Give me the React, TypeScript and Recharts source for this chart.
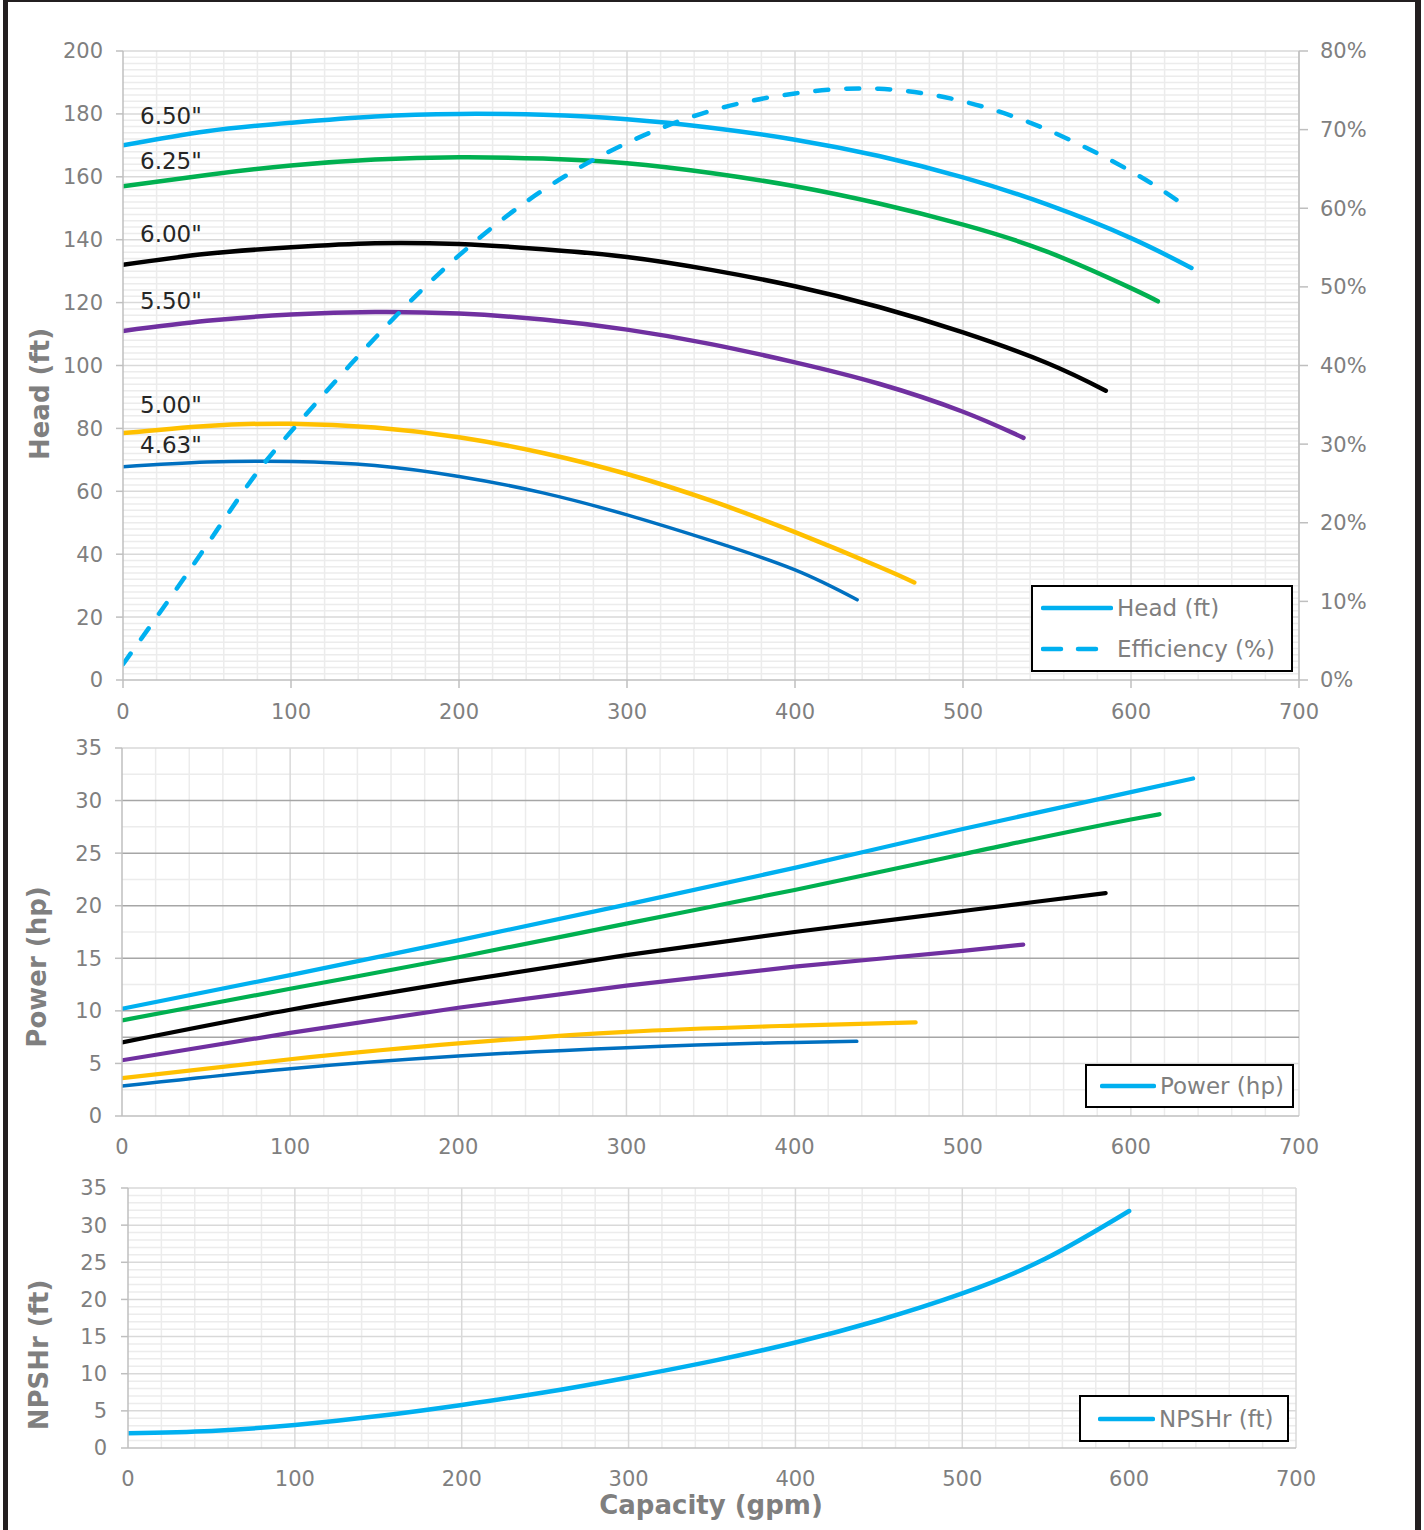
import React from 'react'
import { LineChart, Line, XAxis, YAxis, ReferenceLine } from 'recharts'

// capacity (gpm) -> value pairs
const head650 = [[0, 170], [50, 174.5], [100, 177.2], [150, 179.2], [200, 180], [250, 179.7], [300, 178.3], [350, 175.6], [400, 171.8], [450, 166.6], [500, 159.8], [550, 151.2], [600, 140.5], [636, 131]]
const head625 = [[0, 157], [50, 160.6], [100, 163.6], [150, 165.5], [200, 166.2], [250, 165.8], [300, 164.3], [350, 161.2], [400, 157], [450, 151.5], [500, 144.8], [550, 136.2], [600, 124.6], [616, 120.4]]
const head600 = [[0, 132], [50, 135.5], [100, 137.6], [150, 138.9], [200, 138.6], [250, 137], [300, 134.5], [350, 130.4], [400, 125.2], [450, 118.6], [500, 110.5], [550, 100.8], [585, 92]]
const head550 = [[0, 111], [50, 114.2], [100, 116.2], [150, 117], [200, 116.5], [250, 114.6], [300, 111.4], [350, 106.8], [400, 101], [450, 94.2], [500, 85.3], [536, 77]]
const head500 = [[0, 78.5], [50, 80.8], [100, 81.5], [150, 80.3], [200, 77.2], [250, 72.2], [300, 65.5], [350, 57], [400, 47], [450, 36], [471, 31]]
const head463 = [[0, 67.8], [50, 69.3], [100, 69.5], [150, 68.2], [200, 64.7], [250, 59.5], [300, 52.5], [350, 44.3], [400, 35], [437, 25.5]]

const efficiency = [[0, 2], [25, 9.5], [50, 17.2], [75, 25], [100, 31.6], [150, 43.5], [200, 54], [250, 62.3], [300, 68.3], [350, 72.4], [400, 74.6], [450, 75.2], [500, 73.6], [550, 70], [600, 64.7], [631, 60.5]]

const power650 = [[0, 10.2], [100, 13.4], [200, 16.7], [300, 20.1], [400, 23.6], [500, 27.3], [600, 30.8], [637, 32.1]]
const power625 = [[0, 9.1], [100, 12.1], [200, 15.1], [300, 18.3], [400, 21.5], [500, 24.9], [600, 28.2], [617, 28.7]]
const power600 = [[0, 7], [100, 10.1], [200, 12.8], [300, 15.3], [400, 17.5], [500, 19.5], [585, 21.2]]
const power550 = [[0, 5.3], [100, 7.9], [200, 10.3], [300, 12.4], [400, 14.2], [500, 15.7], [536, 16.3]]
const power500 = [[0, 3.6], [100, 5.4], [200, 6.9], [300, 8], [400, 8.6], [472, 8.9]]
const power463 = [[0, 2.85], [100, 4.5], [200, 5.7], [300, 6.5], [400, 7], [437, 7.1]]

const npshr = [[0, 2], [50, 2.3], [100, 3.1], [150, 4.3], [200, 5.8], [250, 7.5], [300, 9.5], [350, 11.7], [400, 14.2], [450, 17.2], [500, 20.8], [550, 25.5], [600, 31.9]]

const capTicks = [0, 100, 200, 300, 400, 500, 600, 700]
const headTicks = [0, 20, 40, 60, 80, 100, 120, 140, 160, 180, 200]
const effTicks = [0, 10, 20, 30, 40, 50, 60, 70, 80]
const powerTicks = [0, 5, 10, 15, 20, 25, 30, 35]
const npshTicks = [0, 5, 10, 15, 20, 25, 30, 35]

const trims = [
  { name: '6.50"', color: '#00b0f0', head: head650, power: power650 },
  { name: '6.25"', color: '#00b050', head: head625, power: power625 },
  { name: '6.00"', color: '#000000', head: head600, power: power600 },
  { name: '5.50"', color: '#7030a0', head: head550, power: power550 },
  { name: '5.00"', color: '#ffc000', head: head500, power: power500 },
  { name: '4.63"', color: '#0070c0', head: head463, power: power463 },
]

// label offset above the first point of each head curve
const labelDy: Record<string, number> = { '6.50"': -29, '6.25"': -25, '6.00"': -31, '5.50"': -30, '5.00"': -28, '4.63"': -22 }

const FONT = '"DejaVu Sans", Verdana, sans-serif'
const GREY = '#7f7f7f'
const AXIS = '#bfbfbf'
const MAJOR = '#d9d9d9'
const MINOR = '#ececec'

const range = (start: number, end: number, step: number) => {
  const out: number[] = []
  for (let v = start; v <= end + 1e-9; v += step) out.push(Math.round(v * 100) / 100)
  return out
}

const pts = (arr: number[][]) => arr.map(([x, y]) => ({ x, y }))

const tickStyle = { fill: GREY, fontSize: 21, fontFamily: FONT }

const gridLines = (xs: number[], ys: number[], color: string, yAxisId: string, prefix: string) => [
  ...xs.map((v) => <ReferenceLine key={prefix + 'x' + v} x={v} yAxisId={yAxisId} stroke={color} strokeWidth={1.5} />),
  ...ys.map((v) => <ReferenceLine key={prefix + 'y' + v} y={v} yAxisId={yAxisId} stroke={color} strokeWidth={1.5} />),
]

const AxisTitle = ({ text, x, y, rotate }: { text: string; x: number; y: number; rotate?: boolean }) => (
  <div
    style={{
      position: 'absolute',
      left: x,
      top: y,
      transform: `translate(-50%, -50%)${rotate ? ' rotate(-90deg)' : ''}`,
      whiteSpace: 'nowrap',
      fontFamily: FONT,
      fontWeight: 'bold',
      fontSize: 26,
      color: GREY,
    }}
  >
    {text}
  </div>
)

type LegendItem = { label: string; dashed?: boolean }

const LegendBox = ({ left, top, width, height, sample, pad, items }: { left: number; top: number; width: number; height: number; sample: number; pad: number; items: LegendItem[] }) => (
  <div
    style={{
      position: 'absolute',
      left,
      top,
      width,
      height,
      boxSizing: 'border-box',
      border: '2px solid #000',
      background: '#fff',
      display: 'flex',
      flexDirection: 'column',
      justifyContent: 'space-around',
      paddingLeft: pad,
    }}
  >
    {items.map((it) => (
      <div key={it.label} style={{ display: 'flex', alignItems: 'center', fontFamily: FONT, fontSize: 23, color: GREY, whiteSpace: 'nowrap' }}>
        <svg width={sample + 4} height={10} style={{ marginRight: 4, flex: 'none' }}>
          <line x1={2} y1={5} x2={sample + 2} y2={5} stroke="#00b0f0" strokeWidth={4.5} strokeLinecap="round" strokeDasharray={it.dashed ? '18 17' : undefined} />
        </svg>
        {it.label}
      </div>
    ))}
  </div>
)

const trimLabel = (name: string) => (p: any) =>
  p.index === 0 ? (
    <text x={p.x + 17} y={p.y + labelDy[name]} dominantBaseline="central" fill="#262626" fontSize={23} fontFamily={FONT}>
      {name}
    </text>
  ) : null

export default function App() {
  return (
    <div style={{ position: 'absolute', left: 0, top: 0, width: 1424, height: 1530, background: '#fff', overflow: 'hidden' }}>
      {/* frame */}
      <div style={{ position: 'absolute', left: 3, top: 0, width: 1418, height: 1540, boxSizing: 'border-box', borderLeft: '5px solid #231f20', borderRight: '6px solid #231f20', borderTop: '2px solid #231f20' }} />

      {/* head & efficiency */}
      <div style={{ position: 'absolute', left: 0, top: 0 }}>
        <LineChart width={1424} height={730} margin={{ top: 51, right: 35, bottom: 10, left: 0 }}>
          <XAxis dataKey="x" type="number" domain={[0, 700]} ticks={capTicks} allowDataOverflow tick={tickStyle} stroke={AXIS} strokeWidth={1.5} tickSize={8} tickMargin={16} height={40} />
          <YAxis yAxisId="head" domain={[0, 200]} ticks={headTicks} tick={tickStyle} stroke={AXIS} strokeWidth={1.5} tickSize={7} tickMargin={13} width={123} allowDataOverflow />
          <YAxis yAxisId="eff" orientation="right" domain={[0, 80]} ticks={effTicks} tickFormatter={(v) => v + '%'} tick={tickStyle} stroke={AXIS} strokeWidth={1.5} tickSize={9} tickMargin={12} width={90} allowDataOverflow />
          {gridLines(range(20, 680, 20).filter((v) => v % 100 !== 0), range(2, 198, 2).filter((v) => v % 20 !== 0), MINOR, 'head', 'mn')}
          {gridLines(range(100, 700, 100), range(20, 200, 20), MAJOR, 'head', 'mj')}
          {trims.map((t) => (
            <Line key={t.name} yAxisId="head" data={pts(t.head)} dataKey="y" type="natural" stroke={t.color} strokeWidth={t.name === '4.63"' ? 3.5 : 4.5} strokeLinecap="round" dot={false} activeDot={false} isAnimationActive={false} label={trimLabel(t.name)} />
          ))}
          <Line yAxisId="eff" data={pts(efficiency)} dataKey="y" type="natural" stroke="#00b0f0" strokeWidth={4.5} strokeDasharray="13 18" strokeLinecap="round" dot={false} activeDot={false} isAnimationActive={false} />
        </LineChart>
      </div>
      <AxisTitle text="Head (ft)" x={40} y={394} rotate />
      <LegendBox left={1031} top={585} width={262} height={87} sample={68} pad={8} items={[{ label: 'Head (ft)' }, { label: 'Efficiency (%)', dashed: true }]} />

      {/* power */}
      <div style={{ position: 'absolute', left: 0, top: 730 }}>
        <LineChart width={1424} height={440} margin={{ top: 18, right: 125, bottom: 14, left: 0 }}>
          <XAxis dataKey="x" type="number" domain={[0, 700]} ticks={capTicks} allowDataOverflow tick={tickStyle} stroke={AXIS} strokeWidth={1.5} tickLine={false} tickSize={0} tickMargin={23} height={40} />
          <YAxis yAxisId="p" domain={[0, 35]} ticks={powerTicks} tick={tickStyle} stroke={AXIS} strokeWidth={1.5} tickSize={7} tickMargin={13} width={122} allowDataOverflow />
          {gridLines(range(20, 680, 20).filter((v) => v % 100 !== 0), [2.5, 12.5, 17.5, 22.5, 27.5, 32.5], MINOR, 'p', 'mn')}
          {gridLines(range(100, 700, 100), [5, 35], MAJOR, 'p', 'mj')}
          {gridLines([], [7.5, 10, 15, 20, 25, 30], '#a6a6a6', 'p', 'dk')}
          {trims.map((t) => (
            <Line key={t.name} yAxisId="p" data={pts(t.power)} dataKey="y" type="monotone" stroke={t.color} strokeWidth={t.name === '4.63"' ? 3.5 : 4.2} strokeLinecap="round" dot={false} activeDot={false} isAnimationActive={false} />
          ))}
        </LineChart>
      </div>
      <AxisTitle text="Power (hp)" x={37} y={967} rotate />
      <LegendBox left={1085} top={1064} width={209} height={44} sample={52} pad={13} items={[{ label: 'Power (hp)' }]} />

      {/* NPSHr */}
      <div style={{ position: 'absolute', left: 0, top: 1170 }}>
        <LineChart width={1424} height={360} margin={{ top: 18, right: 128, bottom: 42, left: 0 }}>
          <XAxis dataKey="x" type="number" domain={[0, 700]} ticks={capTicks} allowDataOverflow tick={tickStyle} stroke={AXIS} strokeWidth={1.5} tickLine={false} tickSize={0} tickMargin={23} height={40} />
          <YAxis yAxisId="n" domain={[0, 35]} ticks={npshTicks} tick={tickStyle} stroke={AXIS} strokeWidth={1.5} tickSize={7} tickMargin={14} width={128} allowDataOverflow />
          {gridLines(range(20, 680, 20).filter((v) => v % 100 !== 0), range(1, 34, 1).filter((v) => v % 5 !== 0), MINOR, 'n', 'mn')}
          {gridLines(range(100, 700, 100), range(5, 35, 5), MAJOR, 'n', 'mj')}
          <Line yAxisId="n" data={pts(npshr)} dataKey="y" type="natural" stroke="#00b0f0" strokeWidth={4.5} strokeLinecap="round" dot={false} activeDot={false} isAnimationActive={false} />
        </LineChart>
      </div>
      <AxisTitle text="NPSHr (ft)" x={39} y={1355} rotate />
      <LegendBox left={1079} top={1395} width={210} height={47} sample={53} pad={17} items={[{ label: 'NPSHr (ft)' }]} />
      <AxisTitle text="Capacity (gpm)" x={711} y={1505} />
    </div>
  )
}
